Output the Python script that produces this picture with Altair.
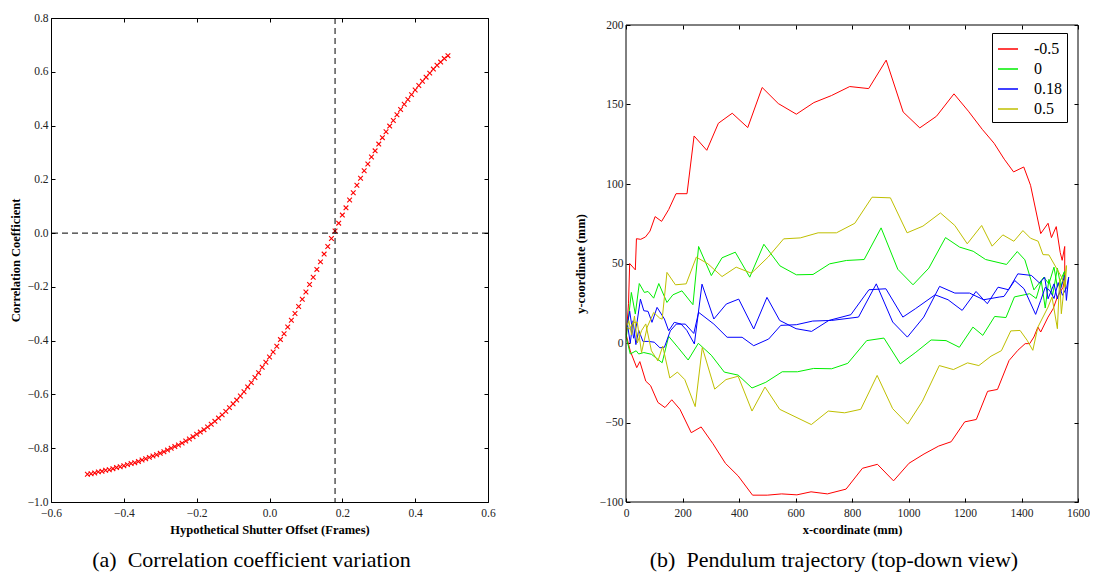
import altair as alt
import pandas as pd

SERIF = "Liberation Serif, Times New Roman, DejaVu Serif, serif"

# ---------------- (a) correlation coefficient vs shutter offset ----------------
shutter_offset = [
    -0.50, -0.49, -0.48, -0.47, -0.46, -0.45, -0.44, -0.43, -0.42, -0.41,
    -0.40, -0.39, -0.38, -0.37, -0.36, -0.35, -0.34, -0.33, -0.32, -0.31,
    -0.30, -0.29, -0.28, -0.27, -0.26, -0.25, -0.24, -0.23, -0.22, -0.21,
    -0.20, -0.19, -0.18, -0.17, -0.16, -0.15, -0.14, -0.13, -0.12, -0.11,
    -0.10, -0.09, -0.08, -0.07, -0.06, -0.05, -0.04, -0.03, -0.02, -0.01,
    0.00, 0.01, 0.02, 0.03, 0.04, 0.05, 0.06, 0.07, 0.08, 0.09,
    0.10, 0.11, 0.12, 0.13, 0.14, 0.15, 0.16, 0.17, 0.18, 0.19,
    0.20, 0.21, 0.22, 0.23, 0.24, 0.25, 0.26, 0.27, 0.28, 0.29,
    0.30, 0.31, 0.32, 0.33, 0.34, 0.35, 0.36, 0.37, 0.38, 0.39,
    0.40, 0.41, 0.42, 0.43, 0.44, 0.45, 0.46, 0.47, 0.48, 0.49,
]
corr_coef = [
    -0.897, -0.895, -0.892, -0.888, -0.886, -0.882, -0.880, -0.876, -0.872, -0.869,
    -0.865, -0.861, -0.857, -0.854, -0.849, -0.844, -0.839, -0.834, -0.829, -0.824,
    -0.819, -0.813, -0.807, -0.800, -0.794, -0.788, -0.781, -0.773, -0.766, -0.757,
    -0.748, -0.740, -0.731, -0.721, -0.711, -0.700, -0.688, -0.676, -0.663, -0.649,
    -0.635, -0.621, -0.606, -0.590, -0.572, -0.556, -0.537, -0.519, -0.499, -0.480,
    -0.461, -0.442, -0.421, -0.396, -0.374, -0.349, -0.324, -0.299, -0.273, -0.246,
    -0.219, -0.191, -0.164, -0.135, -0.107, -0.078, -0.050, -0.020, 0.008, 0.037,
    0.067, 0.094, 0.123, 0.150, 0.178, 0.204, 0.232, 0.257, 0.283, 0.306,
    0.331, 0.355, 0.377, 0.398, 0.419, 0.440, 0.460, 0.479, 0.497, 0.515,
    0.532, 0.549, 0.565, 0.580, 0.595, 0.610, 0.624, 0.636, 0.649, 0.660,
]
peak_offset = [0.18]
zero_level = [0.0]
x_ticks_a = [-0.6, -0.4, -0.2, 0.0, 0.2, 0.4, 0.6]
y_ticks_a = [-1.0, -0.8, -0.6, -0.4, -0.2, 0.0, 0.2, 0.4, 0.6, 0.8]

# ---------------- (b) pendulum trajectories (top-down) ----------------
series_names = ["-0.5", "0", "0.18", "0.5"]
series_colors = ["#ff0000", "#00ee00", "#0000ff", "#bfbf00"]

red_x = [13, 33, 37, 52, 69, 85, 103, 126, 151, 177, 216, 241, 286, 327, 376, 431, 482, 539, 603, 665,
         727, 792, 859, 921, 981, 1040, 1099, 1161, 1212, 1261, 1303, 1339, 1372, 1408, 1432, 1468, 1494,
         1506, 1523, 1537, 1544, 1553, 1553, 1547, 1527, 1512, 1494, 1468, 1458, 1444, 1429, 1413, 1387,
         1356, 1315, 1280, 1240, 1199, 1151, 1107, 1055, 1002, 947, 890, 837, 779, 713, 655, 605, 551,
         500, 448, 397, 352, 308, 266, 231, 191, 162, 138, 113, 87, 70, 49, 38, 15, 1, 9, 13]
red_y = [50, 46, 65.6, 65.2, 66.7, 70.4, 79.5, 76.5, 83.9, 93.9, 93.9, 130.2, 121.2, 138.2, 144.5, 135.5,
         160.7, 150.6, 143.9, 151.2, 155.6, 161.3, 160.0, 177.9, 145.3, 135.3, 142.6, 156.7, 145.8, 134.4,
         125.6, 115.6, 107.6, 110.7, 99.2, 68.8, 75.3, 66.3, 73.2, 57, 52, 60.7, 41, 35, 29, 21.5, 16.3,
         6.9, 10, 3.8, -0.4, -0.4, -4.6, -11, -29.2, -30.4, -48.1, -49.6, -62.1, -64.8, -69.8, -75.6,
         -86.7, -76.3, -78.8, -91.9, -94.9, -93.6, -95.5, -94.9, -95.7, -95.7, -83.6, -75.7, -63.4, -52.8,
         -56.4, -41.7, -35.7, -40.6, -37.4, -26.8, -24, -11.7, -15.5, -5, 5, 25, 50]

green_x = [1, 15, 36, 45, 63, 90, 128, 151, 185, 220, 256, 302, 348, 397, 446, 495, 553, 607, 664, 728,
           785, 852, 913, 971, 1026, 1080, 1133, 1180, 1228, 1263, 1305, 1345, 1375, 1429, 1452, 1470,
           1484, 1497, 1510, 1527, 1540, 1552, 1527, 1515, 1497, 1479, 1444, 1412, 1385, 1347, 1273, 1229,
           1181, 1131, 1072, 1016, 962, 903, 843, 780, 721, 662, 603, 545, 488, 438, 387, 340, 302, 257,
           237, 198, 166, 145, 116, 98, 78, 65, 47, 33, 19, 9, 1]
green_y = [3.6, -6.9, -4.9, -6.9, -6, -7.1, -12.4, 4.2, -3, -10.7, -0.2, -7.7, -18.3, -20.2, -28.3, -24.7,
           -18.1, -18.1, -16, -16.2, -12.8, 1.5, 3.1, -13.1, -5.8, 1.9, 1.5, -2.7, 10, 4.8, 16.7, 16, 29,
           31, 28, 39, 22, 40, 30, 47, 35, 45, 35.1, 47.7, 37.2, 41.4, 33.4, 52.3, 57.5, 49.4, 52.5, 57.7,
           60.3, 66.3, 47.1, 36.6, 46.4, 72.4, 52.5, 51.9, 49.8, 43.1, 42.9, 48.5, 62.1, 41.4, 57.1, 53.6,
           42.4, 60.7, 24.1, 32.8, 30.3, 25.5, 37.4, 28.2, 32.4, 31.8, 37.4, 18.2, 31.8, 16, 3.6]

blue_x = [5, 15, 25, 35, 45, 60, 80, 100, 120, 136, 157, 178, 210, 240, 257, 311, 358, 411, 452, 505,
          548, 603, 661, 728, 823, 886, 944, 996, 1054, 1110, 1164, 1216, 1266, 1321, 1338, 1376, 1409,
          1450, 1468, 1484, 1500, 1515, 1530, 1545, 1560, 1567, 1559, 1553, 1541, 1527, 1515, 1494, 1482,
          1464, 1435, 1387, 1354, 1317, 1279, 1239, 1190, 1140, 1094, 1024, 980, 920, 860, 796, 718, 657,
          602, 544, 499, 452, 399, 355, 311, 269, 242, 215, 195, 171, 151, 136, 110, 92, 78, 63, 51, 39,
          27, 13, 5]
blue_y = [12, 0, 14, -1, 8, 1, 1, 0.5, -3, -2.7, 7.7, 11.9, 11.9, 6, 19.3, 11.9, 3.6, 3.6, -1.7, 2.5,
          11.1, 11.5, 13.8, 14.2, 16.3, 37.2, 13.2, 3.7, 16.3, 35.6, 31.4, 31.4, 27.2, 28.9, 29.3, 39.3,
          34.1, 18, 26.8, 35, 33, 28, 38, 30, 35, 41.4, 26.8, 42.5, 35.6, 27.8, 37.2, 27.8, 41.4, 37.7,
          42.5, 43.5, 33.5, 35.1, 24.7, 32.4, 20.5, 27.2, 30.3, 21.5, 16.3, 34.1, 33.5, 17.8, 14.2, 7.3,
          9, 14.2, 28.7, 8.8, 27.6, 24.5, 15.1, 37, -0.6, 8, 11.9, 13, 7.7, 15.1, 22.4, 13, 19.9, 20.3,
          27.6, 13, 3, 20, 12]

olive_x = [1, 10, 20, 30, 40, 55, 70, 90, 113, 130, 155, 182, 208, 245, 270, 314, 354, 397, 446, 492,
           544, 656, 716, 774, 831, 889, 944, 997, 1049, 1109, 1159, 1209, 1249, 1292, 1329, 1362, 1395,
           1420, 1440, 1458, 1494, 1508, 1527, 1535, 1541, 1559, 1555, 1540, 1497, 1476, 1459, 1432, 1405,
           1373, 1334, 1296, 1259, 1208, 1164, 1113, 1051, 995, 936, 871, 810, 745, 680, 617, 558, 503,
           444, 390, 340, 290, 249, 213, 175, 145, 128, 119, 98, 75, 55, 40, 25, 13, 1]
olive_y = [10, 14, 5, 17, 0, 7.8, 12, -4.9, -11.3, -2, -22, -18.3, -23, -40, -2.8, -29, -23, -20.9,
           -42.8, -27.7, -41.7, -51.3, -42.8, -43.9, -41.7, -20.4, -41.3, -51, -36.7, -14.2, -16.7, -12.5,
           -14.2, -8.3, -4.8, 7.6, 7.9, 1.7, -4.6, 10, 22.6, 28.9, 9, 40.4, 18.4, 48.7, 35, 42, 55.4, 55.6,
           64, 65.9, 70.7, 64, 68, 60.9, 73.9, 62.4, 73.9, 81.8, 73.5, 69.3, 91.3, 91.7, 75.3, 69.3, 69.3,
           66.1, 65.5, 54, 43.9, 47.7, 41.8, 49.8, 54, 37.2, 36.6, 44.4, 15, 15.7, 19.2, 10, -6, 13, 13,
           8.8, 10]

x_domain_b = [0, 1600]
y_domain_b = [-100, 200]
x_ticks_b = [0, 200, 400, 600, 800, 1000, 1200, 1400, 1600]
y_ticks_b = [-100, -50, 0, 50, 100, 150, 200]


def axis(orient, values, fmt, title=None, labels=True, title_padding=6, offset=-4, label_padding=3):
    """matplotlib-classic look: ticks pointing into the plot, frame drawn separately."""
    return alt.Axis(
        orient=orient, values=values, format=fmt, title=title,
        offset=offset, tickSize=4, tickColor="black", tickWidth=1,
        domain=False, grid=False, labels=labels,
        labelFlush=False, labelOverlap=False,
        labelFont=SERIF, labelFontSize=11.5, labelColor="#222222", labelPadding=label_padding,
        titleFont=SERIF, titleFontSize=12.5, titleFontWeight="bold",
        titleColor="black", titlePadding=title_padding,
    )


def caption(text):
    return alt.Title(text, orient="bottom", anchor="middle", dx=-18, offset=14,
                     font=SERIF, fontSize=22, fontWeight="normal", color="black")


# ---- panel (a)
corr_df = pd.DataFrame({"offset": shutter_offset, "coef": corr_coef})
xs_a = alt.Scale(domain=[-0.6, 0.6], nice=False, zero=False)
ys_a = alt.Scale(domain=[-1.0, 0.8], nice=False, zero=False)

pts_a = alt.Chart(corr_df).mark_point(
    shape="M-1,-1L1,1M-1,1L1,-1", size=22, filled=False, color="#ff0000",
    strokeWidth=1.1, opacity=1,
).encode(
    x=alt.X("offset:Q", scale=xs_a,
            axis=axis("bottom", x_ticks_a, ".1f", "Hypothetical Shutter Offset (Frames)",
                      title_padding=5, label_padding=5)),
    y=alt.Y("coef:Q", scale=ys_a,
            axis=axis("left", y_ticks_a, ".1f", "Correlation Coefficient", title_padding=5)),
)
mirror_a = alt.Chart(corr_df).mark_point(opacity=0).encode(
    x=alt.X("offset:Q", scale=xs_a, axis=axis("top", x_ticks_a, ".1f", labels=False)),
    y=alt.Y("coef:Q", scale=ys_a, axis=axis("right", y_ticks_a, ".1f", labels=False)),
)
vline = alt.Chart(pd.DataFrame({"xv": peak_offset})).mark_rule(
    color="black", strokeDash=[6, 4], strokeWidth=1
).encode(x=alt.X("xv:Q", scale=xs_a, axis=None))
hline = alt.Chart(pd.DataFrame({"yv": zero_level})).mark_rule(
    color="black", strokeDash=[6, 4], strokeWidth=1
).encode(y=alt.Y("yv:Q", scale=ys_a, axis=None))

left = alt.layer(pts_a, mirror_a, vline, hline).resolve_axis(
    x="independent", y="independent"
).properties(width=437, height=484,
             view=alt.ViewBackground(stroke="black", strokeWidth=1),
             title=caption("(a)\u2002Correlation coefficient variation"))

# ---- panel (b)  (plot area starts 7px lower than panel (a))
rows = []
for name, xs, ys in zip(series_names, [red_x, green_x, blue_x, olive_x], [red_y, green_y, blue_y, olive_y]):
    for i, (xv, yv) in enumerate(zip(xs, ys)):
        rows.append({"x": xv, "y": yv, "offset": name, "idx": i})
traj_df = pd.DataFrame(rows)

H_B = 484
TOP_GAP = 7
xs_b = alt.Scale(domain=x_domain_b, nice=False, zero=False)
ys_b = alt.Scale(domain=y_domain_b, nice=False, zero=False, range=[H_B, TOP_GAP])

lines_b = alt.Chart(traj_df).mark_line(strokeWidth=1).encode(
    x=alt.X("x:Q", scale=xs_b, axis=axis("bottom", x_ticks_b, "d", "x-coordinate (mm)",
                                         title_padding=5, label_padding=5)),
    y=alt.Y("y:Q", scale=ys_b, axis=axis("left", y_ticks_b, "d", "y-coordinate (mm)", title_padding=12)),
    color=alt.Color(
        "offset:N",
        scale=alt.Scale(domain=series_names, range=series_colors),
        legend=alt.Legend(
            title=None, orient="none", legendX=366, legendY=15,
            symbolType="stroke", symbolSize=400, symbolStrokeWidth=1.5,
            labelFont=SERIF, labelFontSize=16, labelColor="black", labelOffset=15,
            padding=5, rowPadding=1, strokeColor="black", fillColor="white",
        ),
    ),
    order=alt.Order("idx:Q"),
)
mirror_b = alt.Chart(traj_df).mark_point(opacity=0).encode(
    x=alt.X("x:Q", scale=xs_b, axis=axis("top", x_ticks_b, "d", labels=False, offset=-4 - TOP_GAP)),
    y=alt.Y("y:Q", scale=ys_b, axis=axis("right", y_ticks_b, "d", labels=False)),
)
frame_df = pd.DataFrame({"x0": [x_domain_b[0]], "x1": [x_domain_b[1]],
                         "y0": [y_domain_b[0]], "y1": [y_domain_b[1]]})
frame_b = alt.Chart(frame_df).mark_rect(fillOpacity=0, stroke="black", strokeWidth=1).encode(
    x=alt.X("x0:Q", scale=xs_b, axis=None), x2="x1:Q",
    y=alt.Y("y0:Q", scale=ys_b, axis=None), y2="y1:Q",
)

right = alt.layer(lines_b, mirror_b, frame_b).resolve_axis(
    x="independent", y="independent"
).properties(width=452, height=H_B,
             view=alt.ViewBackground(strokeOpacity=0),
             title=caption("(b)\u2002Pendulum trajectory (top-down view)"))

chart = alt.hconcat(left, right, spacing=78).resolve_scale(
    color="independent"
).resolve_legend(color="independent").properties(
    padding={"left": 0, "top": 3, "right": 0, "bottom": 0}
).configure(background="white")

chart.save("out.html", embed_options={"renderer": "svg", "actions": False})
